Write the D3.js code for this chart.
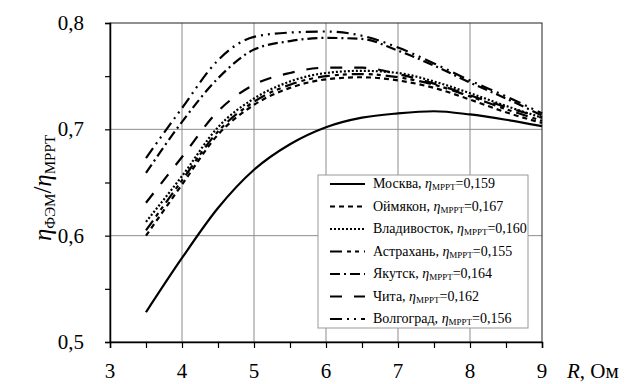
<!DOCTYPE html>
<html><head><meta charset="utf-8">
<script src="https://cdn.jsdelivr.net/npm/d3@7"></script>
<style>body{margin:0;background:#fff}svg{display:block}svg text{font-family:"Liberation Serif","Times New Roman",serif}</style>
</head><body>
<svg id="c" width="633" height="384"></svg>
<script>
const R = [3.5, 4, 4.5, 5, 5.5, 6, 6.5, 7, 7.5, 8, 8.5, 9];
const moskva      = [0.528, 0.579, 0.626, 0.662, 0.686, 0.702, 0.711, 0.715, 0.717, 0.714, 0.709, 0.703];
const oymyakon    = [0.600, 0.648, 0.695, 0.723, 0.739, 0.747, 0.749, 0.746, 0.739, 0.728, 0.716, 0.706];
const vladivostok = [0.613, 0.656, 0.702, 0.729, 0.745, 0.753, 0.755, 0.753, 0.745, 0.734, 0.722, 0.711];
const astrakhan   = [0.605, 0.652, 0.698, 0.726, 0.742, 0.750, 0.752, 0.749, 0.742, 0.731, 0.719, 0.708];
const yakutsk     = [0.659, 0.707, 0.748, 0.775, 0.783, 0.786, 0.785, 0.774, 0.760, 0.744, 0.729, 0.713];
const chita       = [0.631, 0.674, 0.717, 0.742, 0.753, 0.758, 0.758, 0.752, 0.743, 0.732, 0.721, 0.711];
const volgograd   = [0.673, 0.720, 0.765, 0.787, 0.791, 0.792, 0.788, 0.777, 0.762, 0.746, 0.731, 0.715];
const names = ["Москва", "Оймякон", "Владивосток", "Астрахань", "Якутск", "Чита", "Волгоград"];
const etaMPPT = ["0,159", "0,167", "0,160", "0,155", "0,164", "0,162", "0,156"];
const seriesVals = [moskva, oymyakon, vladivostok, astrakhan, yakutsk, chita, volgograd];
const dashes = [null, "5,4", "2,2", "12,5,4,4,4,5", "10,4,2,4", "12,12", "12,5,2,5,2,5"];
const xTicks = [3, 4, 5, 6, 7, 8, 9];
const xMinor = [3.5, 4.5, 5.5, 6.5, 7.5, 8.5];
const yTicks = [0.5, 0.6, 0.7, 0.8];
const yMinor = [0.55, 0.65, 0.75];
const yTickLabels = ["0,5", "0,6", "0,7", "0,8"];

const svg = d3.select("#c");
const L = 110, T = 23, W = 432, H = 319;
const x = d3.scaleLinear().domain([3, 9]).range([L, L + W]);
const y = d3.scaleLinear().domain([0.5, 0.8]).range([T + H, T]);

// grid
svg.append("g").selectAll("line").data([4,5,6,7,8]).join("line")
  .attr("x1", d => x(d)).attr("x2", d => x(d)).attr("y1", T).attr("y2", T + H)
  .attr("stroke", "#8c8c8c").attr("stroke-width", 1);
svg.append("g").selectAll("line").data([0.6, 0.7]).join("line")
  .attr("x1", L).attr("x2", L + W).attr("y1", d => y(d)).attr("y2", d => y(d))
  .attr("stroke", "#8c8c8c").attr("stroke-width", 1);

// frame
svg.append("rect").attr("x", L).attr("y", T).attr("width", W).attr("height", H)
  .attr("fill", "none").attr("stroke", "#222").attr("stroke-width", 1);

// axes
const xAxis = d3.axisBottom(x).tickValues(xTicks.concat(xMinor)).tickSize(6).tickFormat("");
const gx = svg.append("g").attr("transform", `translate(0,${T + H})`).call(xAxis);
const yAxis = d3.axisLeft(y).tickValues(yTicks.concat(yMinor)).tickSize(5).tickFormat("");
const gy = svg.append("g").attr("transform", `translate(${L},0)`).call(yAxis);
[gx, gy].forEach(g => {
  g.selectAll("path").attr("stroke", "#000").attr("stroke-width", 1.5);
  g.selectAll("line").attr("stroke", "#000").attr("stroke-width", 1.2);
});

// tick labels
svg.append("g").selectAll("text").data(xTicks).join("text")
  .attr("x", d => x(d)).attr("y", 378).attr("text-anchor", "middle")
  .attr("font-size", 21).text(d => d);
svg.append("g").selectAll("text").data(yTicks).join("text")
  .attr("x", 84).attr("y", d => y(d) + 7).attr("text-anchor", "end")
  .attr("font-size", 21).text((d, i) => yTickLabels[i]);

// x axis title
const xt = svg.append("text").attr("x", 567).attr("y", 378).attr("font-size", 21);
xt.append("tspan").attr("font-style", "italic").text("R");
xt.append("tspan").text(", Ом");

// y axis title
const yt = svg.append("text").attr("transform", "translate(51,188) rotate(-90)")
  .attr("text-anchor", "middle").attr("font-size", 25);
yt.append("tspan").attr("font-style", "italic").text("η");
yt.append("tspan").attr("font-size", 15).attr("dy", 4).text("ФЭМ");
yt.append("tspan").attr("dy", -4).text("/");
yt.append("tspan").attr("font-style", "italic").text("η");
yt.append("tspan").attr("font-size", 15).attr("dy", 4).text("МРРТ");

// curves
const line = d3.line().x((d, i) => x(R[i])).y(d => y(d)).curve(d3.curveMonotoneX);
svg.append("g").selectAll("path").data(seriesVals).join("path")
  .attr("d", d => line(d)).attr("fill", "none").attr("stroke", "#000")
  .attr("stroke-width", 2.2)
  .attr("stroke-dasharray", (d, i) => dashes[i]);

// legend
const lg = svg.append("g");
lg.append("rect").attr("x", 318).attr("y", 175).attr("width", 210).attr("height", 153)
  .attr("fill", "#fff").attr("stroke", "#999").attr("stroke-width", 1);
const rowY = i => 184 + i * 22.5;
names.forEach((n, i) => {
  lg.append("line").attr("x1", 330).attr("x2", 365).attr("y1", rowY(i)).attr("y2", rowY(i))
    .attr("stroke", "#000").attr("stroke-width", 2.2).attr("stroke-dasharray", dashes[i]);
  const t = lg.append("text").attr("x", 373).attr("y", rowY(i) + 4).attr("font-size", 14);
  t.append("tspan").text(n + ", ");
  t.append("tspan").attr("font-style", "italic").text("η");
  t.append("tspan").attr("font-size", 9).attr("dy", 2).text("MPPT");
  t.append("tspan").attr("dy", -2).text("=" + etaMPPT[i]);
});
</script>
</body></html>
